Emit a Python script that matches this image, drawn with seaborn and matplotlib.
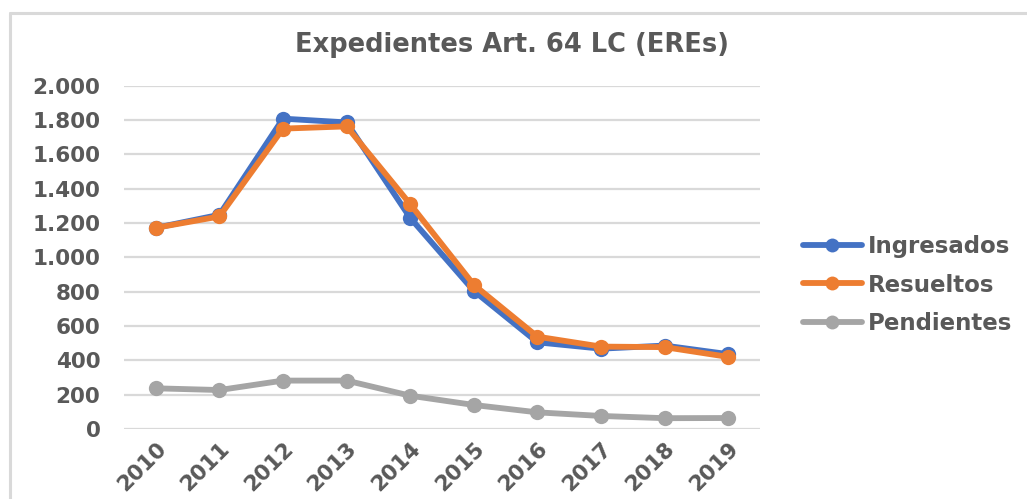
import matplotlib
matplotlib.use("Agg")
import matplotlib.pyplot as plt
import pandas as pd
import seaborn as sns
from matplotlib.lines import Line2D
from matplotlib.ticker import FuncFormatter

years = [2010, 2011, 2012, 2013, 2014, 2015, 2016, 2017, 2018, 2019]
ingresados = [1172, 1248, 1808, 1786, 1230, 805, 505, 468, 486, 436]
resueltos = [1172, 1238, 1750, 1763, 1310, 840, 538, 480, 477, 420]
pendientes = [237, 227, 282, 282, 194, 140, 97, 76, 63, 64]
series_names = ["Ingresados", "Resueltos", "Pendientes"]
colors = {"Ingresados": "#4472C4", "Resueltos": "#ED7D31", "Pendientes": "#A5A5A5"}
title = "Expedientes Art. 64 LC (EREs)"

TEXT = "#595959"

df = pd.DataFrame({"year": years, "Ingresados": ingresados,
                   "Resueltos": resueltos, "Pendientes": pendientes})
long_df = df.melt(id_vars="year", var_name="serie", value_name="valor")

sns.set_theme(style="white")
plt.rcParams["font.family"] = ["DejaVu Sans"]

fig = plt.figure(figsize=(10.27, 4.99), dpi=100)
ax = fig.add_axes([124 / 1027, 1 - 429 / 499, 636 / 1027, (429 - 85.7) / 499])

# chart area border, only top and left edges are inside the crop
x0, y0 = 10 / 1027, 1 - 13 / 499
fig.lines.append(Line2D([x0, 1.0], [y0, y0], transform=fig.transFigure,
                        color="#D9D9D9", linewidth=2.2))
fig.lines.append(Line2D([x0, x0], [0.0, y0], transform=fig.transFigure,
                        color="#D9D9D9", linewidth=2.2))

sns.lineplot(data=long_df, x="year", y="valor", hue="serie", hue_order=series_names,
             palette=colors, marker="o", markersize=11, markeredgewidth=0,
             linewidth=4.2, ax=ax, legend=False)

ax.set_xlim(2009.5, 2019.5)
ax.set_ylim(0, 2000)
ax.set_yticks(range(0, 2001, 200))
ax.yaxis.set_major_formatter(FuncFormatter(lambda v, _: f"{v:,.0f}".replace(",", ".")))
ax.set_xticks(years)
ax.set_xticklabels([str(y) for y in years], rotation=45, ha="right",
                   rotation_mode="anchor")
ax.grid(axis="y", color="#D9D9D9", linewidth=1.6)
ax.set_axisbelow(True)
for s in ax.spines.values():
    s.set_visible(False)
ax.tick_params(axis="both", length=0, labelsize=15.5, labelcolor=TEXT)
ax.tick_params(axis="y", pad=17)
ax.tick_params(axis="x", pad=7)
for lab in ax.get_xticklabels() + ax.get_yticklabels():
    lab.set_fontweight("bold")
ax.set_xlabel("")
ax.set_ylabel("")

fig.text(512 / 1027, 1 - 45 / 499, title, ha="center", va="center",
         fontsize=18.5, fontweight="bold", color=TEXT)

handles = [Line2D([], [], color=colors[n], linewidth=4.2, marker="o",
                  markersize=10, markeredgewidth=0) for n in series_names]
leg = fig.legend(handles, series_names, loc="center left",
                 bbox_to_anchor=(782 / 1027, 1 - 285 / 499), frameon=False,
                 handlelength=2.6, handletextpad=0.25, labelspacing=0.68,
                 prop={"size": 16.5, "weight": "bold"})
for t in leg.get_texts():
    t.set_color(TEXT)

fig.savefig("out.png", dpi=100)
